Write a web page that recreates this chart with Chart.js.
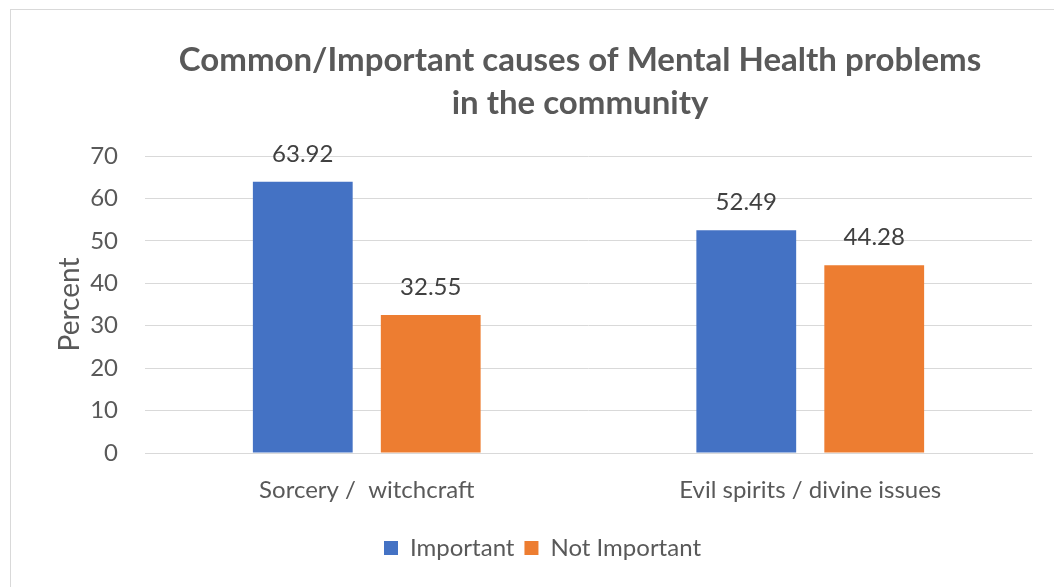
<!DOCTYPE html>
<html>
<head>
<meta charset="utf-8">
<script src="https://cdn.jsdelivr.net/npm/chart.js@4.4.1/dist/chart.umd.min.js"></script>
<style>
html,body{margin:0;padding:0;background:#fff;overflow:hidden;}
#frame{position:absolute;left:10px;top:9px;width:1100px;height:640px;border:1px solid #d9d9d9;}
#wrap{position:absolute;left:0;top:0;width:1054px;height:587px;}
</style>
</head>
<body>
<div id="frame"></div>
<div id="wrap"><canvas id="c" width="1054" height="587"></canvas></div>
<script>
const categories = ["Sorcery /  witchcraft", "Evil spirits / divine issues"];
const important = [63.92, 52.49];
const notImportant = [32.55, 44.28];
const seriesNames = ["Important", "Not Important"];
const yTicks = [0, 10, 20, 30, 40, 50, 60, 70];
const titleLines = ["Common/Important causes of Mental Health problems", "in the community"];
const yTitle = "Percent";

const FONT = "Lato, 'Open Sans', sans-serif";
const GREY = "#595959";

const titlePlugin = {
  id: 'customTitle',
  afterDraw(chart) {
    const ctx = chart.ctx;
    ctx.save();
    ctx.font = "bold 33px " + FONT;
    ctx.fillStyle = GREY;
    ctx.textAlign = "center";
    ctx.textBaseline = "middle";
    ctx.fillText(titleLines[0], 580, 60);
    ctx.fillText(titleLines[1], 580, 103);
    ctx.restore();
  }
};

const labelPlugin = {
  id: 'valueLabels',
  afterDatasetsDraw(chart) {
    const ctx = chart.ctx;
    ctx.save();
    ctx.font = "24px " + FONT;
    ctx.fillStyle = "#404040";
    ctx.textAlign = "center";
    ctx.textBaseline = "middle";
    chart.data.datasets.forEach((ds, i) => {
      const meta = chart.getDatasetMeta(i);
      meta.data.forEach((el, j) => {
        ctx.fillText(ds.data[j].toFixed(2), el.x, el.y - 28);
      });
    });
    ctx.restore();
  }
};

new Chart(document.getElementById('c'), {
  type: 'bar',
  data: {
    labels: categories,
    datasets: [
      { label: seriesNames[0], data: important, backgroundColor: "#4472C4", categoryPercentage: 0.577, barPercentage: 0.78 },
      { label: seriesNames[1], data: notImportant, backgroundColor: "#ED7D31", categoryPercentage: 0.577, barPercentage: 0.78 }
    ]
  },
  plugins: [labelPlugin, titlePlugin],
  options: {
    responsive: false,
    animation: false,
    layout: { padding: { top: 156, right: 22, bottom: 17, left: 53 } },
    plugins: {
      title: { display: false },
      legend: {
        position: 'bottom',
        labels: {
          color: GREY,
          font: { family: FONT, size: 24 },
          boxWidth: 14, boxHeight: 14, padding: 10
        }
      },
      tooltip: { enabled: false }
    },
    scales: {
      x: {
        grid: { display: false },
        border: { color: "#d9d9d9" },
        ticks: { color: GREY, font: { family: FONT, size: 24 }, padding: 15 },
        afterFit(s) { s.height = 73; }
      },
      y: {
        min: 0, max: 70,
        afterBuildTicks(s) { s.ticks = yTicks.map(v => ({ value: v })); },
        grid: { color: "#d9d9d9", drawTicks: false },
        border: { display: false },
        ticks: { color: GREY, font: { family: FONT, size: 24 }, padding: 27 },
        title: { display: true, text: yTitle, color: GREY, font: { family: FONT, size: 28 }, padding: { top: 0, bottom: 0 } },
        afterFit(s) { s.width = 92; }
      }
    }
  }
});
</script>
</body>
</html>
